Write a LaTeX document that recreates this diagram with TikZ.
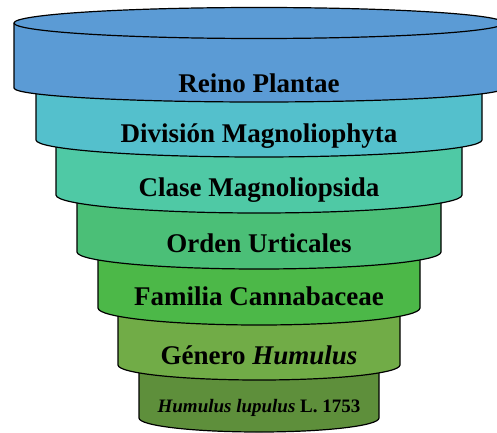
\documentclass[tikz,border=0pt]{standalone}
\usepackage{fontspec}
\setmainfont{Liberation Serif}
\usepackage{tikz}

\begin{document}
\begin{tikzpicture}[x=1pt, y=1pt, line width=1.2pt,
    band/.style={draw=black, line join=round},
    rank/.style={font=\bfseries\fontsize{27}{30}\selectfont, anchor=base, inner sep=0pt}]
  % Define colors
  \definecolor{reinocol}{HTML}{5B9BD5}
  \definecolor{divcol}{HTML}{54C0CC}
  \definecolor{clasecol}{HTML}{4FC9A5}
  \definecolor{ordencol}{HTML}{4BBF77}
  \definecolor{famcol}{HTML}{4CB848}
  \definecolor{gencol}{HTML}{71AC47}
  \definecolor{espcol}{HTML}{5E8F3B}

  \clip (0,0) rectangle (497,432);

  % Bands, from the bottom up
  \draw[band, fill=espcol] (139,67) -- (139,14) arc[start angle=180, end angle=360, x radius=120, y radius=14] -- (379,67) -- cycle;
  \draw[band, fill=gencol] (118,124) -- (118,67) arc[start angle=180, end angle=360, x radius=141, y radius=15] -- (400,124) -- cycle;
  \draw[band, fill=famcol] (98,180) -- (98,124) arc[start angle=180, end angle=360, x radius=161, y radius=17] -- (420,180) -- cycle;
  \draw[band, fill=ordencol] (77,237) -- (77,180) arc[start angle=180, end angle=360, x radius=182, y radius=17] -- (441,237) -- cycle;
  \draw[band, fill=clasecol] (56,292) -- (56,237) arc[start angle=180, end angle=360, x radius=203, y radius=18] -- (462,292) -- cycle;
  \draw[band, fill=divcol] (36,344) -- (36,292) arc[start angle=180, end angle=360, x radius=223, y radius=17] -- (482,344) -- cycle;

  % Top cylinder
  \draw[band, fill=reinocol] (14,409) -- (14,344) arc[start angle=180, end angle=360, x radius=245, y radius=14] -- (504,409) -- cycle;
  \draw[band, fill=reinocol] (259,409) ellipse[x radius=245, y radius=15.5];

  % Labels
  \node[rank] (reino) at (259,340) {Reino Plantae};
  \node[rank] (division) at (259,290) {División Magnoliophyta};
  \node[rank] (clase) at (259,236) {Clase Magnoliopsida};
  \node[rank] (orden) at (259,180) {Orden Urticales};
  \node[rank] (familia) at (259,127) {Familia Cannabaceae};
  \node[rank] (genero) at (259,68) {Género \textit{Humulus}};
  \node[rank, font=\bfseries\fontsize{19}{22}\selectfont] (especie) at (259,20) {\textit{Humulus lupulus} L. 1753};
\end{tikzpicture}
\end{document}
